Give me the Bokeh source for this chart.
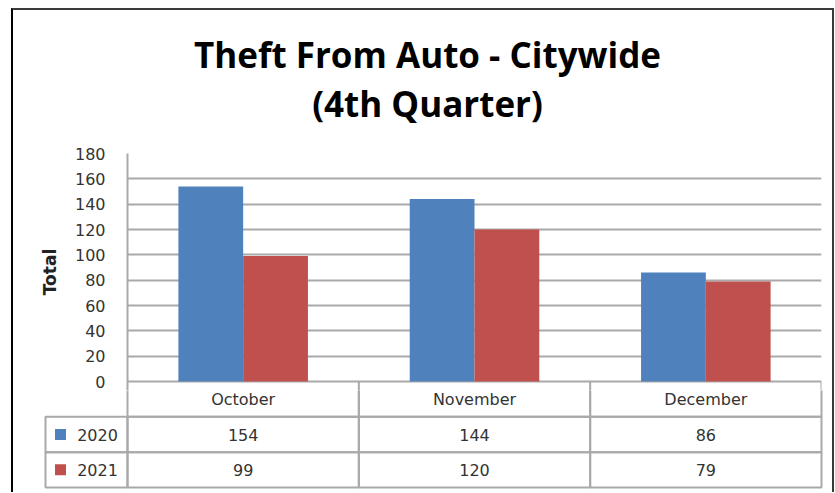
from bokeh.plotting import figure
from bokeh.models import ColumnDataSource, FactorRange, Range1d, FixedTicker
from bokeh.transform import dodge
from bokeh.layouts import column, row
from bokeh.core.properties import value
from bokeh.embed import file_html
from bokeh.resources import INLINE

# ---------------- data ----------------
months = ["October", "November", "December"]
series_names = ["2020", "2021"]
values_2020 = [154, 144, 86]
values_2021 = [99, 120, 79]
y_ticks = [0, 20, 40, 60, 80, 100, 120, 140, 160, 180]
title_lines = ["Theft From Auto - Citywide", "(4th Quarter)"]
y_label = "Total"

# ---------------- style / layout ----------------
BLUE = "#4f81bd"
RED = "#c0504d"
GRID = "#a9a9a9"
TEXT = "#333333"
SMALL_FONT = "DejaVu Sans"
TITLE_FONT = "Open Sans"

W = 819                 # width of the stacked figures
C_H = 133               # title strip
A_H = 247               # chart
B_H = 102               # data table
Y_MAX = 180
PLOT_PX = 228.0         # px from 0 to 180
Y_EXT = Y_MAX * 9 / PLOT_PX   # chart frame continues 9 px below zero
CAT = 694 / 3.0         # px per category
LEG = 82 / CAT          # legend column width, in category units
ROW = 106 / 3.0         # table row height, px

# ---------------- title strip ----------------
pC = figure(width=W, height=C_H, x_range=Range1d(0, W), y_range=Range1d(0, C_H),
            x_axis_location=None, y_axis_location=None, toolbar_location=None,
            output_backend="svg", min_border=0)
pC.outline_line_color = None
pC.grid.visible = False
pC.text(x=[414, 414], y=[C_H - 44, C_H - 93], text=title_lines,
        text_font=value(TITLE_FONT), text_font_style="bold", text_font_size="35px",
        text_align="center", text_baseline="alphabetic", text_color="black")

# ---------------- chart ----------------
src = ColumnDataSource(dict(month=months, v2020=values_2020, v2021=values_2021))

pA = figure(width=W, height=A_H, x_range=FactorRange(*months), y_range=Range1d(-Y_EXT, Y_MAX),
            x_axis_location=None, toolbar_location=None, output_backend="svg",
            min_border_left=114, min_border_right=11, min_border_top=10, min_border_bottom=0)
pA.outline_line_color = None
pA.xgrid.grid_line_color = None
pA.ygrid.ticker = FixedTicker(ticks=y_ticks)
pA.ygrid.grid_line_color = GRID
pA.ygrid.grid_line_width = 2

ax = pA.yaxis[0]
ax.ticker = FixedTicker(ticks=y_ticks)
ax.major_tick_line_color = None
ax.minor_tick_line_color = None
ax.major_tick_out = 0
ax.major_tick_in = 0
ax.axis_line_color = GRID
ax.axis_line_width = 2
ax.major_label_standoff = 22
ax.major_label_text_font = SMALL_FONT
ax.major_label_text_font_size = "16px"
ax.major_label_text_color = TEXT
ax.axis_label = y_label
ax.axis_label_text_font = SMALL_FONT
ax.axis_label_text_font_style = "bold"
ax.axis_label_text_font_size = "17px"
ax.axis_label_text_color = "#222222"
ax.axis_label_standoff = 12

pA.vbar(x=dodge("month", -0.14, range=pA.x_range), top="v2020", width=0.28, source=src,
        fill_color=BLUE, line_color=None)
pA.vbar(x=dodge("month", 0.14, range=pA.x_range), top="v2021", width=0.28, source=src,
        fill_color=RED, line_color=None)

# top of the table's column separators (continuing below the zero line)
n = len(months)
sep_x = [i + 1 for i in range(n)]
pA.segment(x0=sep_x, y0=[-Y_EXT] * n, x1=sep_x, y1=[0] * n, line_color=GRID, line_width=2)

# ---------------- data table ----------------
pB = figure(width=W, height=B_H,
            x_range=Range1d(-(127 - 43) / CAT, 3 + 2 / CAT),
            y_range=Range1d(-(489 - 487) / ROW, 3 - (390 - 381) / ROW),
            x_axis_location=None, y_axis_location=None, toolbar_location=None,
            output_backend="svg", min_border_left=30, min_border_right=9,
            min_border_top=0, min_border_bottom=3)
pB.outline_line_color = None
pB.grid.visible = False

col_x = [i + 0.5 for i in range(n)]
row_y = {"header": 2.5, series_names[0]: 1.5, series_names[1]: 0.5}

cell_x, cell_y = [], []
for cx in col_x:
    for ry in row_y.values():
        cell_x.append(cx)
        cell_y.append(ry)
pB.rect(x=cell_x, y=cell_y, width=1, height=1, fill_color=None, line_color=GRID, line_width=2)
pB.rect(x=[-LEG / 2] * 2, y=[row_y[s] for s in series_names], width=LEG, height=1,
        fill_color=None, line_color=GRID, line_width=2)

tx = col_x * 3
ty = [row_y["header"]] * n + [row_y[series_names[0]]] * n + [row_y[series_names[1]]] * n
tt = months + [str(v) for v in values_2020] + [str(v) for v in values_2021]
pB.text(x=tx, y=ty, text=tt, text_align="center", text_baseline="middle",
        text_font=value(SMALL_FONT), text_font_size="16px", text_color=TEXT)

pB.scatter(x=[-LEG + 15 / CAT] * 2, y=[row_y[s] for s in series_names], marker="square",
           size=11, fill_color=[BLUE, RED], line_color=None)
pB.text(x=[-LEG + 52 / CAT] * 2, y=[row_y[s] for s in series_names], text=series_names,
        text_align="center", text_baseline="middle", text_font=value(SMALL_FONT),
        text_font_size="16px", text_color=TEXT)

layout = column(row(pC), pA, row(pB), spacing=0,
                styles={"margin-left": "11px", "margin-top": "8px",
                        "border-left": "2px solid #000000",
                        "border-top": "2px solid #3a3a3a", "border-right": "2px solid #3a3a3a"})

open("out.html", "w").write(file_html(layout, INLINE))
